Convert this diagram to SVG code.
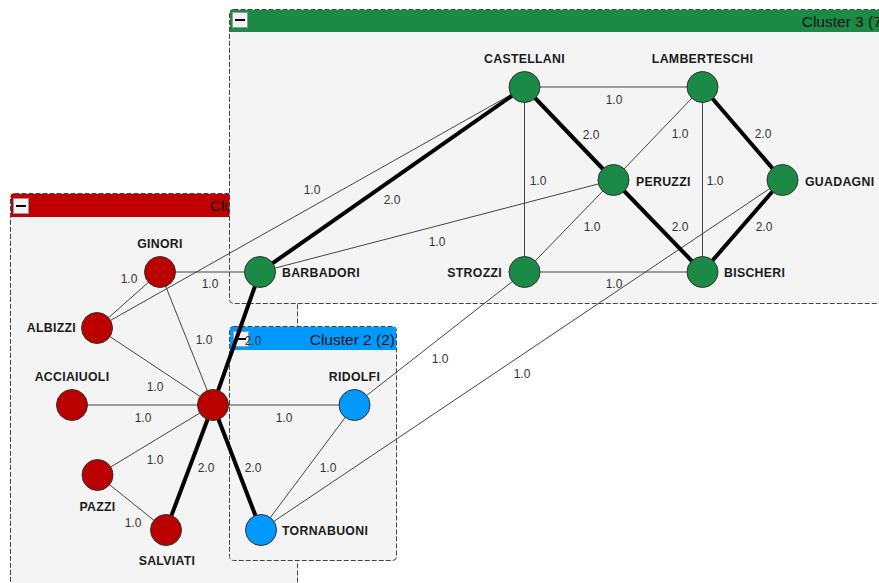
<svg xmlns="http://www.w3.org/2000/svg" width="879" height="583" viewBox="0 0 879 583">
<style>
.box{fill:#f4f4f4;stroke:#444;stroke-width:1;stroke-dasharray:5,2}
.ttl{font-family:"Liberation Sans",Arial,sans-serif;font-size:15.5px;fill:#111;text-anchor:end}
.btn{fill:#f2f2f2;stroke:#999;stroke-width:1}
.e1{stroke:#444;stroke-width:1;fill:none}
.e2{stroke:#000;stroke-width:4;fill:none}
.el{font-family:"Liberation Sans",Arial,sans-serif;font-size:12px;fill:#333;text-anchor:middle}
.nl{font-family:"Liberation Sans",Arial,sans-serif;font-size:12.3px;font-weight:bold;fill:#1a1a1a;letter-spacing:0.3px}
.r{fill:#bb0000;stroke:#333;stroke-width:1}
.g{fill:#1b8a47;stroke:#333;stroke-width:1}
.b{fill:#0099ff;stroke:#333;stroke-width:1}
</style>
<g id="cluster1">
<rect class="box" x="10.5" y="193.5" width="287" height="395" rx="4"/>
<rect x="11" y="194" width="286" height="23" fill="#c00000"/>
<rect class="btn" x="13.5" y="198.5" width="15" height="15"/>
<rect x="16" y="205" width="10" height="2" fill="#000"/>
<text class="ttl" x="295" y="211">Cluster 1 (6)</text>
</g>
<g id="cluster3">
<rect class="box" x="229.5" y="9.5" width="660" height="294" rx="4"/>
<rect x="230" y="10" width="660" height="22" fill="#1b8a47"/>
<rect class="btn" x="232.5" y="12.5" width="15" height="15"/>
<rect x="235" y="19" width="10" height="2" fill="#000"/>
<text class="ttl" x="887" y="27">Cluster 3 (7)</text>
</g>
<g id="cluster2">
<rect class="box" x="229.5" y="326.5" width="167" height="234" rx="4"/>
<rect x="230" y="327" width="166" height="23" fill="#0099ff"/>
<rect class="btn" x="233.5" y="331.5" width="15" height="15"/>
<rect x="236" y="338" width="10" height="2" fill="#000"/>
<text class="ttl" x="395" y="345">Cluster 2 (2)</text>
</g>
<g id="connectors">
<line class="e1" x1="160" y1="272" x2="260" y2="272" stroke="#222"/>
<line class="e1" x1="160" y1="272" x2="97" y2="328"/>
<line class="e1" x1="160" y1="272" x2="213" y2="405"/>
<line class="e1" x1="97" y1="328" x2="213" y2="405"/>
<line class="e1" x1="97" y1="328" x2="524.5" y2="87"/>
<line class="e1" x1="72" y1="405" x2="213" y2="405"/>
<line class="e1" x1="97.5" y1="475" x2="213" y2="405"/>
<line class="e1" x1="97.5" y1="475" x2="166" y2="530"/>
<line class="e2" x1="213" y1="405" x2="166" y2="530"/>
<line class="e2" x1="213" y1="405" x2="261" y2="530"/>
<line class="e1" x1="213" y1="405" x2="354.5" y2="405"/>
<line class="e2" x1="213" y1="405" x2="260" y2="272"/>
<line class="e1" x1="354.5" y1="405" x2="261" y2="530"/>
<line class="e1" x1="354.5" y1="405" x2="524.5" y2="272"/>
<line class="e1" x1="261" y1="530" x2="782.5" y2="180"/>
<line class="e2" x1="260" y1="272" x2="524.5" y2="87"/>
<line class="e1" x1="260" y1="272" x2="613.5" y2="180"/>
<line class="e1" x1="524.5" y1="87" x2="702.5" y2="87"/>
<line class="e2" x1="524.5" y1="87" x2="613.5" y2="180"/>
<line class="e1" x1="524.5" y1="87" x2="524.5" y2="272"/>
<line class="e1" x1="702.5" y1="87" x2="613.5" y2="180"/>
<line class="e1" x1="702.5" y1="87" x2="702.5" y2="272"/>
<line class="e2" x1="702.5" y1="87" x2="782.5" y2="180"/>
<line class="e1" x1="613.5" y1="180" x2="524.5" y2="272"/>
<line class="e2" x1="613.5" y1="180" x2="702.5" y2="272"/>
<line class="e2" x1="782.5" y1="180" x2="702.5" y2="272"/>
<line class="e1" x1="524.5" y1="272" x2="702.5" y2="272" stroke="#222"/>
<text class="el" x="210" y="288">1.0</text>
<text class="el" x="129" y="283">1.0</text>
<text class="el" x="204" y="344">1.0</text>
<text class="el" x="155" y="391">1.0</text>
<text class="el" x="143" y="422">1.0</text>
<text class="el" x="155" y="464">1.0</text>
<text class="el" x="133" y="527">1.0</text>
<text class="el" x="206" y="472">2.0</text>
<text class="el" x="253" y="472">2.0</text>
<text class="el" x="284" y="422">1.0</text>
<text class="el" x="253" y="345">2.0</text>
<text class="el" x="328" y="472">1.0</text>
<text class="el" x="440" y="363">1.0</text>
<text class="el" x="522" y="378">1.0</text>
<text class="el" x="312" y="194">1.0</text>
<text class="el" x="392" y="204">2.0</text>
<text class="el" x="437" y="246">1.0</text>
<text class="el" x="614" y="104">1.0</text>
<text class="el" x="591" y="139">2.0</text>
<text class="el" x="538" y="185">1.0</text>
<text class="el" x="680" y="138">1.0</text>
<text class="el" x="715" y="185">1.0</text>
<text class="el" x="763" y="138">2.0</text>
<text class="el" x="592" y="231">1.0</text>
<text class="el" x="680" y="231">2.0</text>
<text class="el" x="764" y="231">2.0</text>
<text class="el" x="614" y="288">1.0</text>
</g>
<g id="GINORI"><circle class="r" cx="160" cy="272" r="15.5"/><text class="nl" x="160" y="248" text-anchor="middle">GINORI</text></g>
<g id="ALBIZZI"><circle class="r" cx="97" cy="328" r="15.5"/><text class="nl" x="76" y="332" text-anchor="end">ALBIZZI</text></g>
<g id="ACCIAIUOLI"><circle class="r" cx="72" cy="405" r="15.5"/><text class="nl" x="72" y="381" text-anchor="middle">ACCIAIUOLI</text></g>
<g id="MEDICI"><circle class="r" cx="213" cy="405" r="15.5"/></g>
<g id="PAZZI"><circle class="r" cx="97.5" cy="475" r="15.5"/><text class="nl" x="97.5" y="511" text-anchor="middle">PAZZI</text></g>
<g id="SALVIATI"><circle class="r" cx="166" cy="530" r="15.5"/><text class="nl" x="167" y="565" text-anchor="middle">SALVIATI</text></g>
<g id="RIDOLFI"><circle class="b" cx="354.5" cy="405" r="15.5"/><text class="nl" x="354.5" y="381" text-anchor="middle">RIDOLFI</text></g>
<g id="TORNABUONI"><circle class="b" cx="261" cy="530" r="15.5"/><text class="nl" x="282" y="535">TORNABUONI</text></g>
<g id="BARBADORI"><circle class="g" cx="260" cy="272" r="15.5"/><text class="nl" x="282" y="277">BARBADORI</text></g>
<g id="CASTELLANI"><circle class="g" cx="524.5" cy="87" r="15.5"/><text class="nl" x="524.5" y="63" text-anchor="middle">CASTELLANI</text></g>
<g id="LAMBERTESCHI"><circle class="g" cx="702.5" cy="87" r="15.5"/><text class="nl" x="702.5" y="63" text-anchor="middle">LAMBERTESCHI</text></g>
<g id="PERUZZI"><circle class="g" cx="613.5" cy="180" r="15.5"/><text class="nl" x="636" y="186">PERUZZI</text></g>
<g id="GUADAGNI"><circle class="g" cx="782.5" cy="180" r="15.5"/><text class="nl" x="805" y="186">GUADAGNI</text></g>
<g id="STROZZI"><circle class="g" cx="524.5" cy="272" r="15.5"/><text class="nl" x="502" y="277" text-anchor="end">STROZZI</text></g>
<g id="BISCHERI"><circle class="g" cx="702.5" cy="272" r="15.5"/><text class="nl" x="724" y="277">BISCHERI</text></g>
</svg>
